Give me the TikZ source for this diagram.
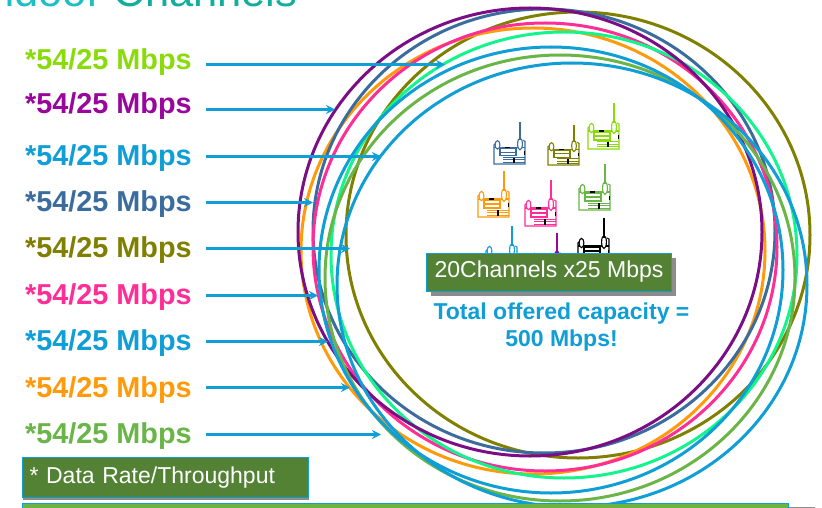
\documentclass[tikz,border=0pt]{standalone}
\usepackage{fontspec}
\setmainfont{Liberation Sans}
\usetikzlibrary{shadows,arrows.meta}
\definecolor{ratelime}{HTML}{8ADB0A}
\definecolor{ratepurple}{HTML}{99069B}
\definecolor{ringpurple}{HTML}{7B0E85}
\definecolor{ratesteel}{HTML}{3A6C9E}
\definecolor{rateolive}{HTML}{808000}
\definecolor{ratepink}{HTML}{FF2E96}
\definecolor{rateblue}{HTML}{0F9ED5}
\definecolor{rateorange}{HTML}{FF9A0A}
\definecolor{rategreen}{HTML}{6AB547}
\definecolor{ringspring}{HTML}{12F58C}
\definecolor{boxgreen}{HTML}{548235}
\definecolor{bargreen}{HTML}{6CB33F}
\tikzset{
    >={Stealth[length=9pt,width=9pt]},
    ratelabel/.style={anchor=base west,inner sep=0pt,font=\bfseries\fontsize{28.8}{30}\selectfont},
    ratearrow/.style={->,draw=rateblue,line width=2.6pt},
    ring/.style={line width=3pt},
    greenbox/.style={draw=rateblue,fill=boxgreen,text=white,line width=1pt,inner sep=0pt,
        font=\fontsize{23}{26}\selectfont},
    radio/.pic={
        \draw[line width=1.1pt] (3,-24) -- (0,-21) -- (0,0) -- (31,0) -- (31,-25) -- (29,-26);
        \draw[line width=1.1pt] (0,-18) -- (31,-18);
        \draw[line width=1.1pt,fill=white] (3.5,-21) ellipse (2.4pt and 4.6pt);
        \draw[line width=1.1pt,fill=white] (26,-22) ellipse (2.4pt and 6.5pt);
        \draw[line width=2pt] (26,-26) -- (26,-46);
        \draw[line width=1.1pt] (6,-17) rectangle (22,-9);
        \draw[line width=1.1pt] (6,-13) -- (22,-13);
        \draw[line width=1pt] (9,-7) -- (31,-7) (9,-4.5) -- (31,-4.5) (9,-2) -- (31,-2);
        \fill[black] (19,-7) rectangle (20.5,-1.5);
        \fill[black] (30,-14) rectangle (31.4,-10);
        \fill[black] (11,-18.8) rectangle (16,-17.4);
    },
}
\begin{document}
\begin{tikzpicture}[x=1pt,y=-1pt]
    \clip (0,0) rectangle (822,508);
    \fill[white] (0,0) rectangle (822,508);
    % title, cut off by the top edge
    \node (title) at (-22,7) [anchor=base west,inner sep=0pt,font=\fontsize{43.5}{46}\selectfont] {\textcolor[HTML]{1BBFC4}{Indoor} \textcolor[HTML]{12AE9C}{Channels}};

    % overlapping coverage rings
    \draw[ring,draw=rateolive] (578,235) ellipse (232pt and 223pt);
    \draw[ring,draw=rateorange] (533,251) ellipse (232pt and 223pt);
    \draw[ring,draw=ratesteel] (544,231) ellipse (231pt and 222pt);
    \draw[ring,draw=ratepink] (545,247) ellipse (232pt and 224pt);
    \draw[ring,draw=ringspring] (564,255) ellipse (233pt and 223pt);
    \draw[ring,draw=ringpurple] (530,232) ellipse (232pt and 224pt);
    \draw[ring,draw=rategreen] (560,278) ellipse (235pt and 223pt);
    \draw[ring,draw=rateblue] (551,270) ellipse (232pt and 223pt);
    \draw[ring,draw=rateblue] (572,285) ellipse (235pt and 222pt);

    % radios
    \pic[color=ratesteel,yscale=.91] at (494,164) {radio};
    \pic[color=rateolive,yscale=.87] at (548,165) {radio};
    \pic[color=ratelime] at (588,149) {radio};
    \pic[color=rateorange] at (478,217) {radio};
    \pic[color=ratepink] at (525,226) {radio};
    \pic[color=rategreen] at (579,210) {radio};
    \pic[color=rateblue] at (486,272) {radio};
    \pic[color=ratepurple] at (531,279) {radio};
    \pic[color=black] at (578,264) {radio};

    % rates and arrows
    \node[ratelabel,text=ratelime] (rate1) at (25,70) {*54/25 Mbps};
    \node[ratelabel,text=ratepurple] (rate2) at (25,114) {*54/25 Mbps};
    \node[ratelabel,text=rateblue] (rate3) at (25,165) {*54/25 Mbps};
    \node[ratelabel,text=ratesteel] (rate4) at (25,211) {*54/25 Mbps};
    \node[ratelabel,text=rateolive] (rate5) at (25,257) {*54/25 Mbps};
    \node[ratelabel,text=ratepink] (rate6) at (25,304) {*54/25 Mbps};
    \node[ratelabel,text=rateblue] (rate7) at (25,350) {*54/25 Mbps};
    \node[ratelabel,text=rateorange] (rate8) at (25,397) {*54/25 Mbps};
    \node[ratelabel,text=rategreen] (rate9) at (25,443.5) {*54/25 Mbps};
    \coordinate (tip1) at (445,64.5);
    \coordinate (tip2) at (335,109.5);
    \coordinate (tip3) at (381,156.5);
    \coordinate (tip4) at (313,202.5);
    \coordinate (tip5) at (350,248.5);
    \coordinate (tip6) at (318,295.5);
    \coordinate (tip7) at (328,341.5);
    \coordinate (tip8) at (350,387.5);
    \coordinate (tip9) at (381,434.5);
    \draw[ratearrow] ([xshift=14pt]rate1.east |- tip1) -- (tip1);
    \draw[ratearrow] ([xshift=14pt]rate2.east |- tip2) -- (tip2);
    \draw[ratearrow] ([xshift=14pt]rate3.east |- tip3) -- (tip3);
    \draw[ratearrow] ([xshift=14pt]rate4.east |- tip4) -- (tip4);
    \draw[ratearrow] ([xshift=14pt]rate5.east |- tip5) -- (tip5);
    \draw[ratearrow] ([xshift=14pt]rate6.east |- tip6) -- (tip6);
    \draw[ratearrow] ([xshift=14pt]rate7.east |- tip7) -- (tip7);
    \draw[ratearrow] ([xshift=14pt]rate8.east |- tip8) -- (tip8);
    \draw[ratearrow] ([xshift=14pt]rate9.east |- tip9) -- (tip9);

    % boxes and totals
    \node[greenbox,minimum width=245pt,minimum height=38pt,drop shadow={shadow xshift=4.5pt,shadow yshift=-4.5pt,fill=black!45,opacity=1}] (channels) at (549,272) {20Channels x25 Mbps};
    \node[text=rateblue,align=center,inner sep=0pt,font=\bfseries\fontsize{23}{27}\selectfont] (total) at (561.5,327) {Total offered capacity =\\500 Mbps!};
    \node[greenbox,anchor=north west,text width=272pt,align=left,inner xsep=7pt,minimum height=40pt,drop shadow={shadow xshift=0pt,shadow yshift=-2pt,fill=black!45,opacity=1}] (footnote) at (22,457) {* Data Rate/Throughput};
    \node[greenbox,fill=bargreen,anchor=north west,minimum width=766pt,minimum height=20pt,drop shadow={shadow xshift=26pt,shadow yshift=-3pt,fill=black!45,opacity=1}] (bar) at (22,503) {};
\end{tikzpicture}
\end{document}
